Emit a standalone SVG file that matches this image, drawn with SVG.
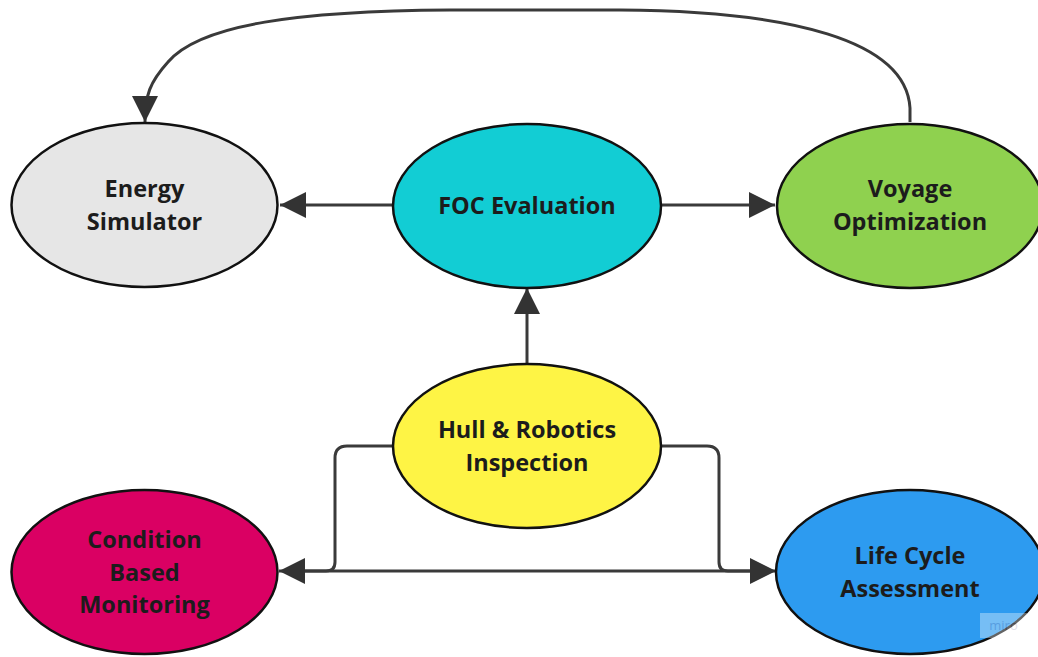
<svg xmlns="http://www.w3.org/2000/svg" width="1038" height="657" viewBox="0 0 1038 657">
  <style>
    .node { stroke: #111111; stroke-width: 2.5; }
    .label { font-family: "Open Sans", "Noto Sans", "Liberation Sans", sans-serif; font-weight: 700; font-size: 23.5px; fill: #1c1c1c; text-anchor: middle; }
    .link { fill: none; stroke: #3a3a3a; stroke-width: 3; stroke-linejoin: round; }
    .mark { font-family: "Open Sans", "Liberation Sans", sans-serif; font-size: 13px; fill: #a9a6c4; text-anchor: middle; }
  </style>
  <defs>
    <marker id="arrow" viewBox="0 0 26 26" refX="26" refY="13" markerWidth="26" markerHeight="26" markerUnits="userSpaceOnUse" orient="auto-start-reverse">
      <path d="M0,0 L26,13 L0,26 Z" fill="#333333"/>
    </marker>
  </defs>

  <rect width="1038" height="657" fill="#ffffff"/>

  <!-- connectors -->
  <g id="connectors">
    <!-- FOC Evaluation -> Energy Simulator -->
    <path class="link" d="M393,205 L280,205" marker-end="url(#arrow)"/>
    <!-- FOC Evaluation -> Voyage Optimization -->
    <path class="link" d="M661,205 L775,205" marker-end="url(#arrow)"/>
    <!-- Hull & Robotics Inspection -> FOC Evaluation -->
    <path class="link" d="M527,363 L527,288" marker-end="url(#arrow)"/>
    <!-- Voyage Optimization -> Energy Simulator (loop over the top) -->
    <path class="link" d="M910,122 L910,108 C906,40 790,11 620,10 L450,10 C300,11 200,24 168,62 C150,82 145,95 145,122" marker-end="url(#arrow)"/>
    <!-- Hull & Robotics Inspection -> Condition Based Monitoring -->
    <path class="link" d="M393,446 L347,446 Q335,446 335,458 L335,562 Q335,571 326,571 L290,571"/>
    <!-- Hull & Robotics Inspection -> Life Cycle Assessment -->
    <path class="link" d="M661,446 L707,446 Q719,446 719,458 L719,562 Q719,571 728,571 L760,571"/>
    <!-- Condition Based Monitoring <-> Life Cycle Assessment -->
    <path class="link" d="M279,571 L776,571" marker-start="url(#arrow)" marker-end="url(#arrow)"/>
  </g>

  <!-- nodes -->
  <g id="energy-simulator">
    <ellipse class="node" cx="144.5" cy="205" rx="133" ry="82" fill="#e6e6e6"/>
    <text class="label" x="144.5" y="197">Energy</text>
    <text class="label" x="144.5" y="230">Simulator</text>
  </g>

  <g id="foc-evaluation">
    <ellipse class="node" cx="527" cy="206" rx="134" ry="82" fill="#12cdd4"/>
    <text class="label" x="527" y="214">FOC Evaluation</text>
  </g>

  <g id="voyage-optimization">
    <ellipse class="node" cx="910" cy="206" rx="133" ry="82" fill="#8fd14f"/>
    <text class="label" x="910" y="197">Voyage</text>
    <text class="label" x="910" y="230">Optimization</text>
  </g>

  <g id="hull-robotics-inspection">
    <ellipse class="node" cx="527" cy="446" rx="134" ry="82" fill="#fef445"/>
    <text class="label" x="527" y="438">Hull &amp; Robotics</text>
    <text class="label" x="527" y="471">Inspection</text>
  </g>

  <g id="condition-based-monitoring">
    <ellipse class="node" cx="144.5" cy="572" rx="133" ry="82" fill="#da0063"/>
    <text class="label" x="144.5" y="548">Condition</text>
    <text class="label" x="144.5" y="581">Based</text>
    <text class="label" x="144.5" y="613">Monitoring</text>
  </g>

  <g id="life-cycle-assessment">
    <ellipse class="node" cx="910" cy="572" rx="134" ry="82" fill="#2d9bf0"/>
    <text class="label" x="910" y="564">Life Cycle</text>
    <text class="label" x="910" y="597">Assessment</text>
  </g>

  <!-- board badge -->
  <g id="badge" opacity="0.35">
    <rect x="980" y="613" width="47" height="25" fill="#ffffff"/>
    <text class="mark" x="1003.5" y="630">miro</text>
  </g>
</svg>
